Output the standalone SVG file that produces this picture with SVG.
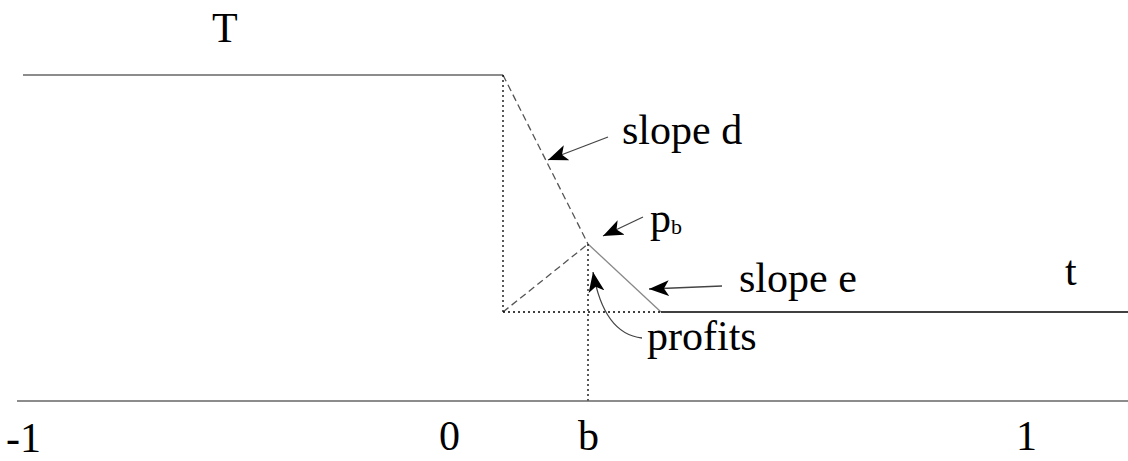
<svg xmlns="http://www.w3.org/2000/svg" width="1128" height="461" viewBox="0 0 1128 461">
<style>
.lbl{font-size:42px;fill:#000}
.ln{fill:none;stroke-width:1.3}
.gray{stroke:#666}
.dash{stroke:#555;stroke-dasharray:7 4}
.dot{stroke:#000;stroke-dasharray:2 3}
.arr{fill:none;stroke:#444;stroke-width:1.3;marker-end:url(#ah)}
</style>
<defs>
<marker id="ah" markerWidth="22" markerHeight="16" refX="20" refY="8" orient="auto" markerUnits="userSpaceOnUse">
<path d="M0,0 L20,8 L0,16 L5,8 Z" fill="#000"/>
</marker>
</defs>
<g id="curves">
<line class="ln gray" x1="23" y1="75" x2="503" y2="75"/>
<line class="ln dash" x1="503" y1="75" x2="588" y2="244"/>
<line class="ln dot" x1="503" y1="75" x2="503" y2="312"/>
<line class="ln dash" x1="503" y1="312" x2="588" y2="244"/>
<line class="ln" stroke="#888" x1="588" y1="244" x2="661" y2="312"/>
<line class="ln dot" x1="503" y1="312" x2="661" y2="312"/>
<line class="ln" stroke="#000" x1="661" y1="312" x2="1128" y2="312"/>
<line class="ln dot" x1="588" y1="244" x2="588" y2="401"/>
<line class="ln gray" x1="17" y1="401" x2="1128" y2="401"/>
</g>
<g id="connectors">
<line class="arr" x1="608" y1="137" x2="548" y2="160"/>
<line class="arr" x1="643" y1="217" x2="603" y2="236"/>
<line class="arr" x1="722" y1="286" x2="649" y2="289"/>
<path class="arr" d="M642,338 Q604,334 593,272"/>
</g>
<g id="labels" font-family="'Liberation Serif', 'Times New Roman', serif" class="lbl">
<text x="212" y="42">T</text>
<text x="622" y="144">slope d</text>
<text x="650" y="232">p<tspan font-size="22" dy="2">b</tspan></text>
<text x="739" y="292">slope e</text>
<text x="1065" y="285">t</text>
<text x="647" y="350">profits</text>
<text x="6" y="452">-1</text>
<text x="439" y="450">0</text>
<text x="578" y="450">b</text>
<text x="1016" y="450">1</text>
</g>
</svg>
